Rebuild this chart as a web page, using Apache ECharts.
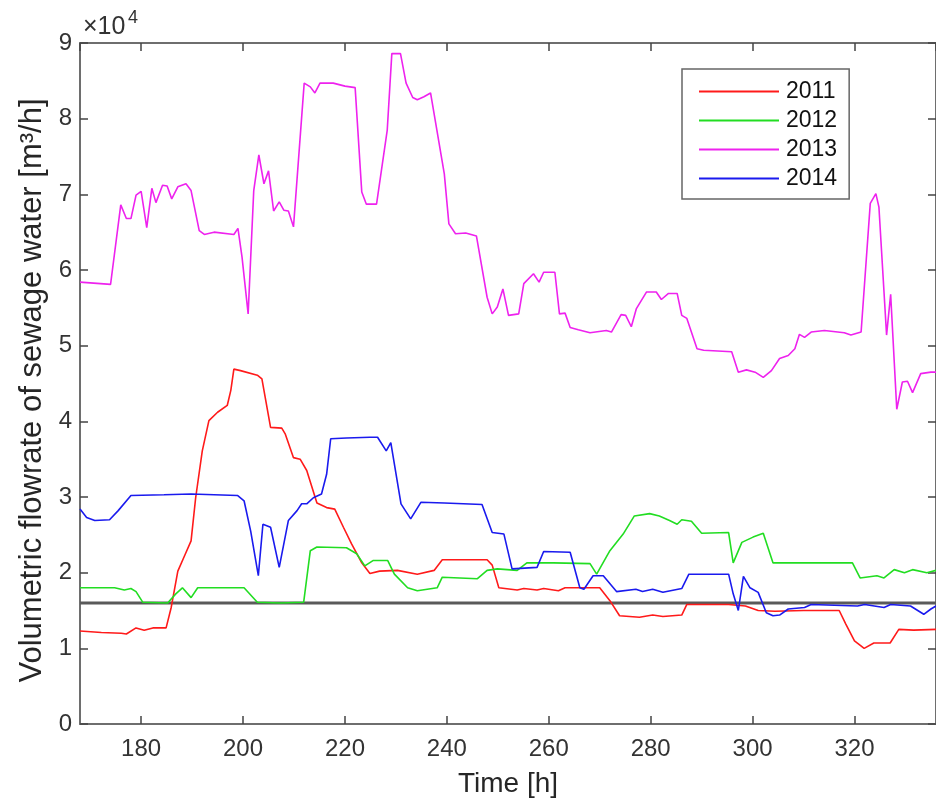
<!DOCTYPE html>
<html>
<head>
<meta charset="utf-8">
<script src="https://cdn.jsdelivr.net/npm/echarts@6/dist/echarts.min.js"></script>
<style>
  html, body { margin: 0; padding: 0; background: #fff; }
  #chart { width: 936px; height: 805px; }
</style>
</head>
<body>
<div id="chart"></div>
<script>
// ---- data: [time (h), volumetric flowrate (m3/h)] ----
const seriesNames = ['2011', '2012', '2013', '2014'];
const thresholdValue = 16000;
const timeRange = [168, 336];
const yTickLabels = ['0', '1', '2', '3', '4', '5', '6', '7', '8', '9'];

const s2011 = [[168,12300],[172.2,12100],[176.1,12000],[177.1,11900],[179,12700],[180.6,12400],[182.3,12700],[184.9,12700],[185.9,15400],[187.2,20200],[188.5,22200],[189.8,24200],[190.7,29900],[192,36100],[193.3,40100],[195,41200],[196.9,42100],[197.6,44100],[198.2,46900],[199.5,46700],[202.8,46100],[203.7,45600],[205.4,39200],[207.6,39100],[208.3,38300],[209.9,35200],[211.2,35000],[212.5,33500],[214.5,29200],[216.4,28600],[218,28400],[219.7,26000],[221.3,23800],[223.3,21300],[224.9,19900],[226.8,20200],[230.3,20300],[234.2,19800],[237.5,20300],[239.1,21700],[242.7,21700],[247.9,21700],[248.9,21000],[250.2,18000],[253.8,17700],[255.1,17900],[257.7,17700],[259,17900],[261.9,17600],[263.2,18000],[270,18000],[272,16300],[273.9,14300],[277.8,14100],[280.4,14400],[282.4,14200],[286.1,14400],[287.1,15800],[295.3,15800],[298.6,15600],[301.1,15000],[304.4,14900],[310,15000],[317,15000],[318.3,13200],[320,11000],[321.9,10000],[323.8,10700],[327,10700],[328.7,12500],[331.6,12400],[336,12500]];

const s2012 = [[168,18000],[174.8,18000],[176.7,17700],[178,17900],[179,17500],[180.3,16100],[185.2,16000],[186.8,17200],[188.1,18000],[189.8,16700],[191.1,18000],[200.2,18000],[202.8,16100],[207.3,16000],[211.9,16100],[213.2,22900],[214.5,23400],[220.3,23300],[222.3,22500],[223.9,20900],[225.5,21600],[228.4,21600],[229.7,19800],[232.3,18000],[234.2,17600],[238.1,18000],[239.1,19400],[246,19200],[247.9,20300],[249.9,20500],[253.8,20300],[255.7,21300],[260.9,21300],[268.1,21200],[269.4,19800],[272,22900],[274.6,25100],[276.8,27500],[279.8,27800],[281.7,27500],[283.7,26900],[285.2,26400],[286.1,27000],[288,26800],[290,25200],[295.3,25300],[296.2,21300],[297.9,24000],[300.1,24700],[302.1,25200],[304,21300],[319.6,21300],[321.1,19300],[324.4,19600],[325.8,19300],[327.8,20400],[329.8,20000],[331.4,20400],[334.2,20000],[336,20300]];

const s2013 = [[168,58400],[174,58100],[176,68600],[177.1,66800],[178,66800],[179,69900],[180,70400],[181.1,65600],[182.1,70800],[182.9,68900],[184.2,71200],[185.1,71100],[186,69400],[187.2,71000],[188.8,71400],[189.8,70500],[191.4,65200],[192.4,64700],[194.3,65000],[198.2,64700],[199,65500],[199.8,61700],[201,54200],[202.1,70500],[203.1,75200],[204.1,71400],[205,73100],[206,67800],[207.1,69000],[208,67900],[208.9,67800],[209.9,65700],[212,84700],[213.2,84200],[214.1,83400],[215.1,84700],[217.7,84700],[220,84300],[222,84100],[223.3,70300],[224.2,68700],[226.2,68700],[228.3,78500],[229.2,88600],[230.9,88600],[232,84700],[233.3,82800],[234.2,82500],[235.5,82900],[236.8,83400],[239.5,72700],[240.4,66100],[241.7,64800],[243.7,64900],[245.8,64500],[247.9,56400],[248.9,54200],[249.9,55100],[251,57500],[252.1,54000],[254.1,54200],[255.1,58200],[257,59500],[258.1,58400],[259,59700],[261.2,59700],[262.1,54200],[263.2,54300],[264.2,52400],[265.8,52100],[268.1,51700],[271.3,52000],[272.3,51800],[274.2,54100],[275.1,54000],[276.2,52500],[277.2,54900],[279.2,57100],[281.1,57100],[282.1,56100],[283.5,56900],[285.2,56900],[286.1,54000],[287.1,53600],[289.1,49600],[290.4,49400],[295.9,49200],[297.2,46500],[298.8,46800],[300.5,46500],[302.1,45800],[303.7,46700],[305.3,48300],[307,48700],[308.3,49600],[309.2,51500],[310.2,51100],[311.5,51800],[314.1,52000],[318,51700],[319.3,51400],[321.3,51800],[323.1,68800],[324.2,70100],[324.8,68300],[326.3,51400],[327.1,56800],[328.3,41600],[329.4,45200],[330.4,45300],[331.4,43800],[333,46300],[335,46500],[336,46500]];

const s2014 = [[168,28400],[169.3,27300],[170.9,26900],[173.8,27000],[175.5,28200],[178,30200],[184.5,30300],[189.8,30400],[198.9,30200],[200.2,29500],[201.5,25500],[203,19600],[203.9,26400],[205.4,26000],[207.1,20700],[208.9,26900],[210.6,28200],[211.5,29100],[212.5,29100],[213.8,29900],[215.4,30400],[216.4,33000],[217.2,37700],[220.3,37800],[224.9,37900],[226.4,37900],[228.1,36100],[229,37200],[231,29100],[232.9,27100],[234.9,29300],[239.5,29200],[246.9,29000],[248.9,25300],[251.2,25100],[252.8,20500],[257.7,20700],[259,22800],[264.2,22700],[266.1,18000],[266.9,17800],[268.7,19600],[270.7,19600],[273.3,17500],[277.1,17800],[278.4,17500],[280.4,17800],[282.4,17400],[286.1,17900],[287.5,19800],[295.3,19800],[296.2,17200],[297.2,15000],[298.2,19500],[299.5,18000],[301.1,17400],[302.7,14700],[304,14300],[305.3,14400],[307,15200],[310.2,15400],[311.5,15800],[320.6,15600],[322,15800],[325.8,15400],[327.1,15800],[331,15600],[333.6,14500],[335,15200],[336,15600]];

const seriesData = [s2011, s2012, s2013, s2014];
const seriesColors = ['#ff1a1a', '#22dd22', '#ee22ee', '#1a1aee'];

// ---- chart ----
const FONT = '"Liberation Sans", Arial, Helvetica, sans-serif';
const AXIS_COLOR = '#6e6e6e';
const chart = echarts.init(document.getElementById('chart'), null, { renderer: 'canvas' });

const lineSeries = seriesNames.map((name, i) => ({
  name: name,
  type: 'line',
  data: seriesData[i],
  symbol: 'none',
  showSymbol: false,
  color: seriesColors[i],
  lineStyle: { width: 1.6, color: seriesColors[i] },
  z: 3
}));

lineSeries.push({
  name: 'threshold',
  type: 'line',
  data: [[timeRange[0], thresholdValue], [timeRange[1], thresholdValue]],
  symbol: 'none',
  color: '#555',
  lineStyle: { width: 3, color: '#5a5a5a' },
  z: 2
});

const commonX = {
  type: 'value',
  min: timeRange[0],
  max: timeRange[1],
  splitNumber: 8,
  minInterval: 20,
  maxInterval: 20,
  splitLine: { show: false },
  axisLine: { show: true, onZero: false, lineStyle: { color: AXIS_COLOR, width: 2 } },
  axisTick: { show: true, inside: true, length: 8, lineStyle: { color: '#444', width: 1.5 } }
};

const commonY = {
  type: 'value',
  min: 0,
  max: 90000,
  interval: 10000,
  splitLine: { show: false },
  axisLine: { show: true, lineStyle: { color: AXIS_COLOR, width: 2 } },
  axisTick: { show: true, inside: true, length: 8, lineStyle: { color: '#444', width: 1.5 } }
};

chart.setOption({
  animation: false,
  backgroundColor: '#fff',
  textStyle: { fontFamily: FONT },
  grid: { left: 80, top: 43, width: 861, height: 681, containLabel: false },
  legend: {
    data: seriesNames,
    orient: 'vertical',
    left: 682,
    top: 69,
    itemWidth: 80,
    itemHeight: 14,
    itemGap: 6,
    padding: [11, 12, 9, 16],
    borderColor: '#666',
    borderWidth: 1.5,
    backgroundColor: '#fff',
    itemStyle: { opacity: 0 },
    textStyle: { fontSize: 23, color: '#111', fontFamily: FONT, padding: [0, 0, 0, 2] }
  },
  xAxis: [
    Object.assign({}, commonX, {
      position: 'bottom',
      name: 'Time [h]',
      nameLocation: 'middle',
      nameGap: 46,
      nameTextStyle: { fontSize: 28, color: '#262626', fontFamily: FONT },
      axisLabel: { show: true, fontSize: 24, color: '#333', margin: 13, fontFamily: FONT, showMinLabel: false, showMaxLabel: false }
    }),
    Object.assign({}, commonX, {
      position: 'top',
      axisLabel: { show: false }
    })
  ],
  yAxis: [
    Object.assign({}, commonY, {
      position: 'left',
      name: 'Volumetric flowrate of sewage water [m³/h]',
      nameLocation: 'middle',
      nameGap: 30,
      nameTextStyle: { fontSize: 31, color: '#262626', fontFamily: FONT, padding: [0, 14, 0, 0] },
      axisLabel: {
        show: true, fontSize: 24, color: '#333', margin: 8, fontFamily: FONT,
        formatter: (v) => yTickLabels[Math.round(v / 10000)]
      }
    }),
    Object.assign({}, commonY, {
      position: 'right',
      axisLabel: { show: false }
    })
  ],
  graphic: [
    { type: 'text', left: 83, top: 15, style: { text: '×10', fontSize: 25, fill: '#333', font: '25px ' + FONT } },
    { type: 'text', left: 128, top: 9, style: { text: '4', fontSize: 18, fill: '#333', font: '18px ' + FONT } }
  ],
  series: lineSeries
});
</script>
</body>
</html>
